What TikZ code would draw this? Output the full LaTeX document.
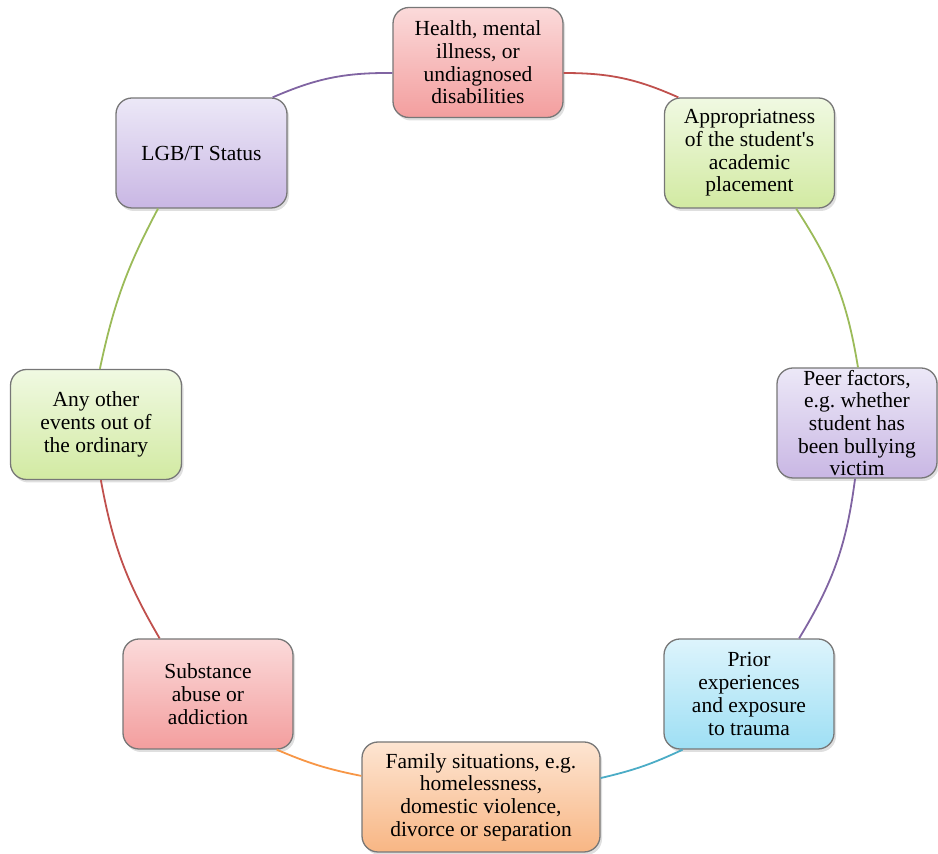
\documentclass[tikz,border=0pt]{standalone}
\usepackage{fontspec}
\setmainfont{Liberation Serif}
\usetikzlibrary{shadows}
\definecolor{arcred}{HTML}{C0504D}
\definecolor{arcgreen}{HTML}{9BBB59}
\definecolor{arcpurple}{HTML}{8064A2}
\definecolor{arcblue}{HTML}{4BACC6}
\definecolor{arcorange}{HTML}{F79646}
\definecolor{redtop}{HTML}{FBDADA}
\definecolor{redbot}{HTML}{F39E9E}
\definecolor{greentop}{HTML}{F0F9E2}
\definecolor{greenbot}{HTML}{D2EAA2}
\definecolor{purpletop}{HTML}{ECE8F7}
\definecolor{purplebot}{HTML}{C9B7E4}
\definecolor{bluetop}{HTML}{DDF4FC}
\definecolor{bluebot}{HTML}{9EDFF4}
\definecolor{orangetop}{HTML}{FDE5D2}
\definecolor{orangebot}{HTML}{F8B684}
\definecolor{boxline}{HTML}{777777}
\tikzset{
  box/.style={draw=boxline, line width=1.3pt, rounded corners=16pt,
    minimum width=170pt, minimum height=110pt, inner xsep=4pt, inner ysep=0pt,
    align=center, font=\fontsize{21.5}{22.7}\selectfont,
    drop shadow={shadow xshift=2pt, shadow yshift=-3pt, opacity=0.25}},
  redbox/.style={box, top color=redtop, bottom color=redbot},
  greenbox/.style={box, top color=greentop, bottom color=greenbot},
  purplebox/.style={box, top color=purpletop, bottom color=purplebot},
  bluebox/.style={box, top color=bluetop, bottom color=bluebot},
  orangebox/.style={box, top color=orangetop, bottom color=orangebot},
  arc/.style={line width=1.8pt}
}
\begin{document}
\begin{tikzpicture}[x=1pt,y=1pt]
\useasboundingbox (0,0) rectangle (938,854);
\node[redbox] (health) at (478,791.5) {Health, mental\\illness, or\\undiagnosed\\disabilities};
\node[greenbox] (approp) at (749.5,701) {Appropriatness\\of the student\textquotesingle s\\academic\\placement};
\node[purplebox, minimum width=160pt] (peer) at (857,431) {Peer factors,\\e.g.\ whether\\student has\\been bullying\\victim};
\node[bluebox] (prior) at (749,160) {Prior\\experiences\\and exposure\\to trauma};
\node[orangebox, minimum width=238pt] (family) at (481,57) {Family situations, e.g.\\homelessness,\\domestic violence,\\divorce or separation};
\node[redbox] (subst) at (208,160) {Substance\\abuse or\\addiction};
\node[greenbox, minimum width=171pt] (other) at (96,429.5) {Any other\\events out of\\the ordinary};
\node[purplebox, minimum width=171pt] (lgbt) at (201.5,701) {LGB/T Status};
\draw[arc, arcred] (health.-7) to[bend left=12] (approp.142.4);
\draw[arc, arcgreen] (approp.-50.2) to[bend left=12] (peer.89);
\draw[arc, arcpurple] (peer.-92) to[bend left=12] (prior.48.4);
\draw[arc, arcblue] (prior.-140) to[bend left=6] (family.9.1);
\draw[arc, arcorange] (family.170.9) to[bend left=6] (subst.-39.6);
\draw[arc, arcred] (subst.131.6) to[bend left=10] (other.-85);
\draw[arc, arcgreen] (other.86) to[bend left=8] (lgbt.-128);
\draw[arc, arcpurple] (lgbt.38) to[bend left=12] (health.187);
\end{tikzpicture}
\end{document}
